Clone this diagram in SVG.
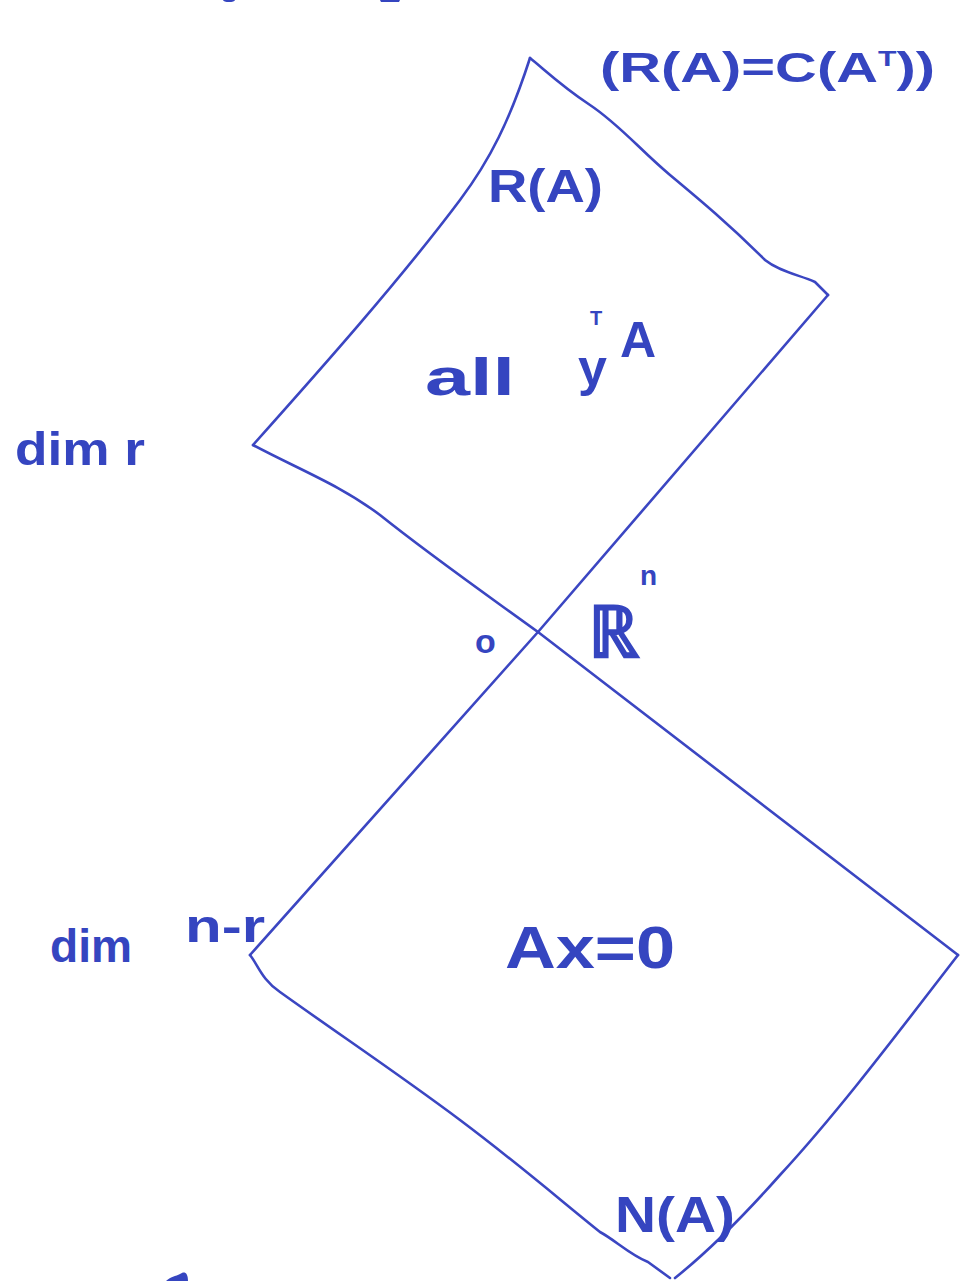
<svg xmlns="http://www.w3.org/2000/svg" width="961" height="1281" viewBox="0 0 961 1281">
<style>
.ln{fill:none;stroke:#3b46c2;stroke-width:2.6;stroke-linecap:round;stroke-linejoin:round}
.tx{fill:#3545c0;font-family:"Liberation Sans",Arial,sans-serif;font-weight:bold}
.frag{fill:#3545c0}
</style>
<rect width="961" height="1281" fill="#ffffff"/>
<g id="connectors">
<path class="ln" d="M530,58 C545,70 560,85 590,105 C620,125 640,150 670,175 C700,200 730,225 765,260 C780,272 800,275 815,282 L828,295"/>
<path class="ln" d="M530,58 C510,120 490,160 460,200 C400,280 320,370 253,445"/>
<path class="ln" d="M828,295 L538,632 L250,955"/>
<path class="ln" d="M253,445 C300,470 340,485 380,515 C430,555 480,590 538,632 L958,955"/>
<path class="ln" d="M250,955 C258,965 262,980 280,992 C340,1035 400,1075 460,1120 C520,1165 560,1200 600,1232 C615,1240 630,1255 648,1262 L670,1278"/>
<path class="ln" d="M958,955 C900,1030 840,1110 780,1175 C740,1220 710,1250 675,1278"/>
</g>
<g id="label-rowspace">
<text class="tx" x="600" y="82" font-size="42" textLength="335" lengthAdjust="spacingAndGlyphs">(R(A)=C(A<tspan dy="-16" font-size="22">T</tspan><tspan dy="16">))</tspan></text>
</g>
<g id="label-RA"><text class="tx" x="488" y="202" font-size="46" textLength="115" lengthAdjust="spacingAndGlyphs">R(A)</text></g>
<g id="label-all">
<text class="tx" x="425" y="395" font-size="52" textLength="90" lengthAdjust="spacingAndGlyphs">all</text>
<text class="tx" x="578" y="385" font-size="52">y</text>
<text class="tx" x="590" y="325" font-size="20">T</text>
<text class="tx" x="620" y="357" font-size="50">A</text>
</g>
<g id="label-dimr"><text class="tx" x="15" y="465" font-size="46" textLength="130" lengthAdjust="spacingAndGlyphs">dim r</text></g>
<g id="label-origin"><text class="tx" x="475" y="653" font-size="34">o</text></g>
<g id="label-Rn">
<text class="tx" x="588" y="657" font-size="72">ℝ</text>
<text class="tx" x="640" y="585" font-size="28">n</text>
</g>
<g id="label-dimnr">
<text class="tx" x="50" y="962" font-size="46" textLength="82" lengthAdjust="spacingAndGlyphs">dim</text>
<text class="tx" x="185" y="942" font-size="46" textLength="80" lengthAdjust="spacingAndGlyphs">n-r</text>
</g>
<g id="label-Ax0"><text class="tx" x="505" y="968" font-size="60" textLength="170" lengthAdjust="spacingAndGlyphs">Ax=0</text></g>
<g id="label-NA"><text class="tx" x="615" y="1232" font-size="50" textLength="120" lengthAdjust="spacingAndGlyphs">N(A)</text></g>
<g id="fragments">
<ellipse class="frag" cx="229" cy="0" rx="6" ry="2"/>
<path class="frag" d="M380,0 L400,0 L399,2 L381,2 Z"/>
<path class="frag" d="M166,1281 C170,1277 176,1276 180,1274 C184,1271 188,1272 188,1281 Z"/>
</g>
</svg>
